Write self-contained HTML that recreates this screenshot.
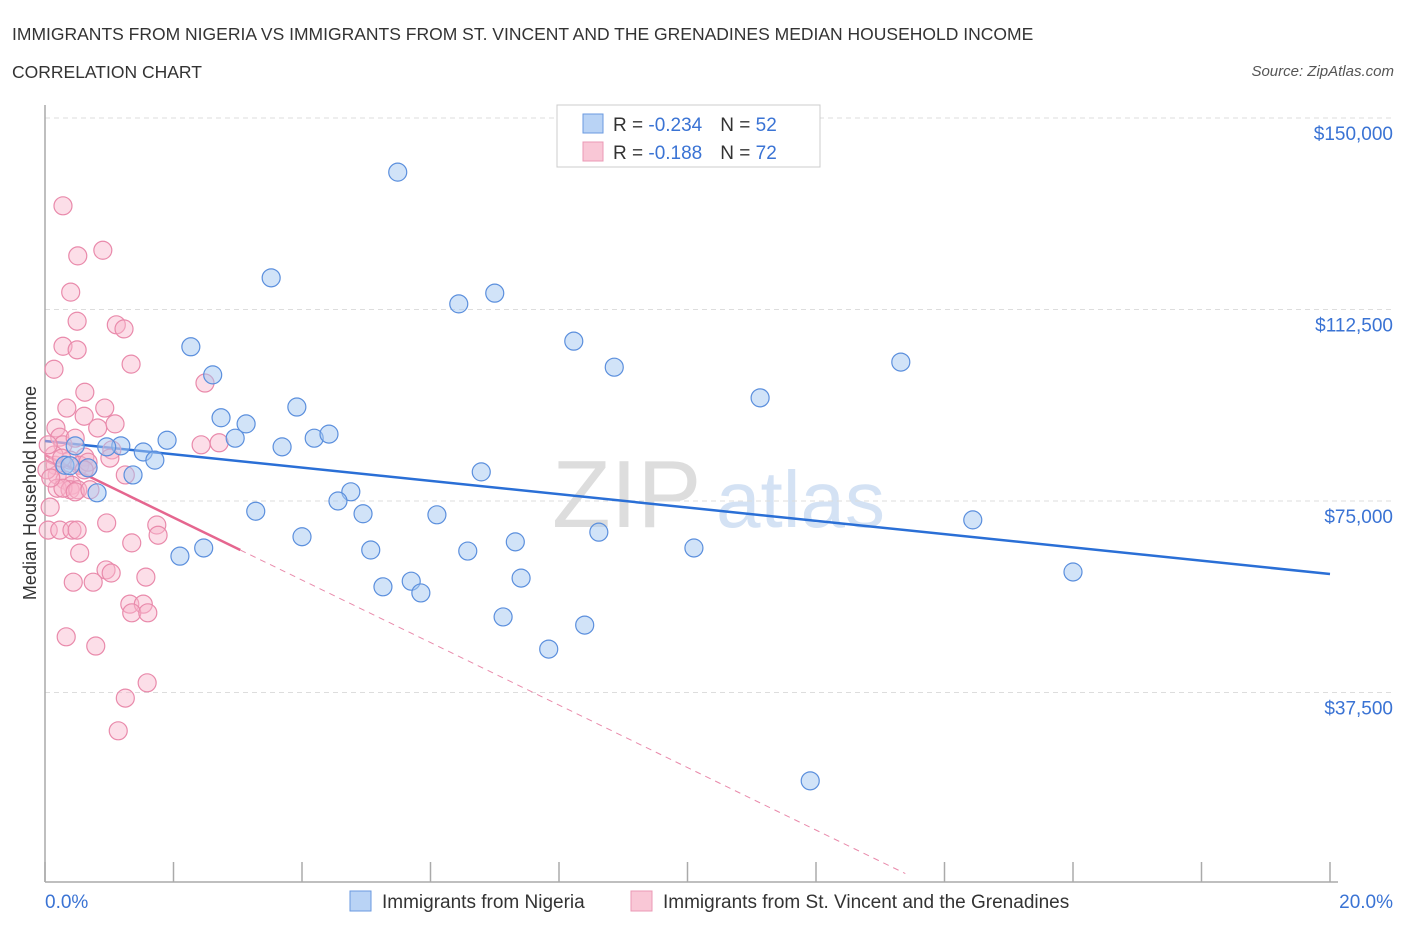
<!DOCTYPE html>
<html><head><meta charset="utf-8">
<style>
body{margin:0;background:#fff;font-family:"Liberation Sans",sans-serif;}
svg text{font-family:"Liberation Sans",sans-serif;}
</style></head>
<body>
<svg width="1406" height="930" viewBox="0 0 1406 930" xmlns="http://www.w3.org/2000/svg">
<text x="12" y="40" font-size="17.5" fill="#333">IMMIGRANTS FROM NIGERIA VS IMMIGRANTS FROM ST. VINCENT AND THE GRENADINES MEDIAN HOUSEHOLD INCOME</text>
<text x="12" y="78" font-size="17.5" fill="#333">CORRELATION CHART</text>
<text x="1394" y="76" font-size="15" fill="#555" font-style="italic" text-anchor="end">Source: ZipAtlas.com</text>
<g>
<text x="552" y="527" font-size="96" fill="#ddd" font-family="Liberation Serif,serif">ZIP</text>
<text x="716" y="527" font-size="80" fill="#d4e2f4">atlas</text>
</g>
<g id="grid"></g>
<g id="axes"></g>
<g id="trends"></g>
<g id="pts"></g>
<text x="36" y="493" font-size="18" fill="#333" text-anchor="middle" transform="rotate(-90 36 493)">Median Household Income</text>
<text x="45" y="908" font-size="19" fill="#3a73d4">0.0%</text>
<text x="1393" y="908" font-size="19" fill="#3a73d4" text-anchor="end">20.0%</text>
<g>
<rect x="557" y="105" width="263" height="62" fill="#fff" stroke="#ccc"/>
<rect x="583" y="114" width="20" height="19" fill="#b9d3f5" stroke="#6a9ae0"/>
<rect x="583" y="142" width="20" height="19" fill="#f9c7d6" stroke="#eb98b5"/>
<text x="613" y="131" font-size="19" fill="#333">R = <tspan fill="#3a73d4">-0.234</tspan><tspan dx="18">N = </tspan><tspan fill="#3a73d4">52</tspan></text>
<text x="613" y="159" font-size="19" fill="#333">R =  <tspan fill="#3a73d4">-0.188</tspan><tspan dx="18">N = </tspan><tspan fill="#3a73d4">72</tspan></text>
</g>
<g>
<rect x="350" y="891" width="21" height="20" fill="#b9d3f5" stroke="#6a9ae0"/>
<text x="382" y="908" font-size="19" fill="#333">Immigrants from Nigeria</text>
<rect x="631" y="891" width="21" height="20" fill="#f9c7d6" stroke="#eb98b5"/>
<text x="663" y="908" font-size="19" fill="#333">Immigrants from St. Vincent and the Grenadines</text>
</g>
</svg>
<script>
const yTicks=[37500,75000,112500,150000];
const yTickLabels=["$37,500","$75,000","$112,500","$150,000"];
const xTicks=[0,2,4,6,8,10,12,14,16,18,20];
const blueX=[5.49,3.52,6.44,7.00,2.27,8.23,8.86,13.32,2.61,11.13,3.92,2.74,3.13,2.96,1.90,4.19,4.42,3.69,1.18,0.96,0.47,1.53,1.71,0.31,0.67,6.79,1.37,0.81,4.76,4.56,3.28,4.95,6.10,14.44,8.62,4.00,7.32,10.10,6.58,5.07,2.47,2.10,16.00,7.41,5.70,5.26,5.85,7.13,8.40,7.84,11.91,0.39];
const blueY=[139400,118700,113600,115700,105200,106300,101200,102200,99700,95200,93400,91300,90100,87300,86900,87300,88100,85600,85800,85600,85800,84600,83000,82000,81500,80700,80100,76600,76800,75000,73000,72500,72300,71300,68900,68000,67000,65800,65200,65400,65800,64200,61100,59900,59300,58200,57000,52300,50700,46000,20200,81900];
const pinkX=[0.28,0.51,0.90,0.40,0.50,0.28,0.50,1.11,1.23,0.14,1.34,2.49,0.62,0.34,0.93,0.61,0.17,1.09,0.82,0.23,0.28,1.04,0.62,0.39,0.54,0.16,0.67,1.25,0.19,0.31,0.42,0.19,0.39,0.28,0.51,0.47,0.08,0.05,0.23,0.42,0.50,0.96,1.35,1.74,1.76,0.54,0.95,1.03,1.57,0.44,0.75,1.32,1.53,1.35,1.60,0.33,0.79,1.59,1.25,1.14,2.71,2.43,0.14,0.03,0.09,1.01,0.67,0.26,0.61,0.70,0.47,0.05];
const pinkY=[132800,123000,124100,115900,110200,105300,104600,109500,108700,100800,101800,98100,96300,93200,93200,91600,89300,90100,89300,87500,86000,85000,83600,83000,82000,82000,81500,80100,80100,79100,78100,77500,77200,77500,77200,76800,73800,69300,69300,69300,69300,70700,66800,70300,68300,64800,61500,60900,60100,59100,59100,54800,54800,53100,53100,48400,46600,39400,36400,30000,86400,86000,84000,81100,79500,83400,82600,83400,81100,77200,87300,86000];
const blueTrend=[86750,-1302.5];   // intercept, slope per %
const pinkTrend=[84000,-6120];
const pinkSolidEnd=3.04, pinkDashEnd=13.39;

const NS="http://www.w3.org/2000/svg";
const X0=45,X1=1330,YB=882;
const xs=v=>X0+(v/20)*(X1-X0);
const ys=v=>501-(v-75000)*191.5/37500;
function mk(tag,attrs,parent){const e=document.createElementNS(NS,tag);for(const k in attrs)e.setAttribute(k,attrs[k]);parent.appendChild(e);return e;}
const grid=document.getElementById('grid'),axes=document.getElementById('axes'),trends=document.getElementById('trends'),pts=document.getElementById('pts');
yTicks.forEach((t,i)=>{
  const l=mk('line',{x1:X0,x2:1393,y1:ys(t),y2:ys(t),stroke:'#ddd','stroke-dasharray':'5,4'},grid);
  
  
  const tx=mk('text',{x:1393,y:ys(t)+22,'font-size':19,fill:'#3a73d4','text-anchor':'end'},axes);
  tx.textContent=yTickLabels[i];
  
  
});
const ya=mk('line',{x1:X0,x2:X0,y1:105,y2:YB,stroke:'#aaa','stroke-width':1.5},axes);


const xa=mk('line',{x1:X0,x2:X1+8,y1:YB,y2:YB,stroke:'#aaa','stroke-width':1.5},axes);


xTicks.forEach(t=>{
  const l=mk('line',{x1:xs(t),x2:xs(t),y1:YB-20,y2:YB,stroke:'#aaa','stroke-width':1.5},axes);
  
  
});
function dot(x,y,fill,stroke,name){
  const c=mk('circle',{cx:xs(x),cy:ys(y),r:9,fill:fill,stroke:stroke,'stroke-width':1.2},pts);
  
  
}
pinkX.forEach((x,i)=>dot(x,pinkY[i],'rgba(248,182,204,0.45)','#e98aab','point-st-vincent'));
blueX.forEach((x,i)=>dot(x,blueY[i],'rgba(164,199,242,0.5)','#5b8fdd','point-nigeria'));
const bt=v=>blueTrend[0]+blueTrend[1]*v, pt=v=>pinkTrend[0]+pinkTrend[1]*v;
const b=mk('line',{x1:xs(0),y1:ys(bt(0)),x2:xs(20),y2:ys(bt(20)),stroke:'#2a6fd6','stroke-width':2.5},trends);


const p1=mk('line',{x1:xs(0),y1:ys(pt(0)),x2:xs(pinkSolidEnd),y2:ys(pt(pinkSolidEnd)),stroke:'#e5668f','stroke-width':2.5},trends);


const p2=mk('line',{x1:xs(pinkSolidEnd),y1:ys(pt(pinkSolidEnd)),x2:xs(pinkDashEnd),y2:ys(pt(pinkDashEnd)),stroke:'#e98aab','stroke-width':1,'stroke-dasharray':'6,5'},trends);


</script>
</body></html>
